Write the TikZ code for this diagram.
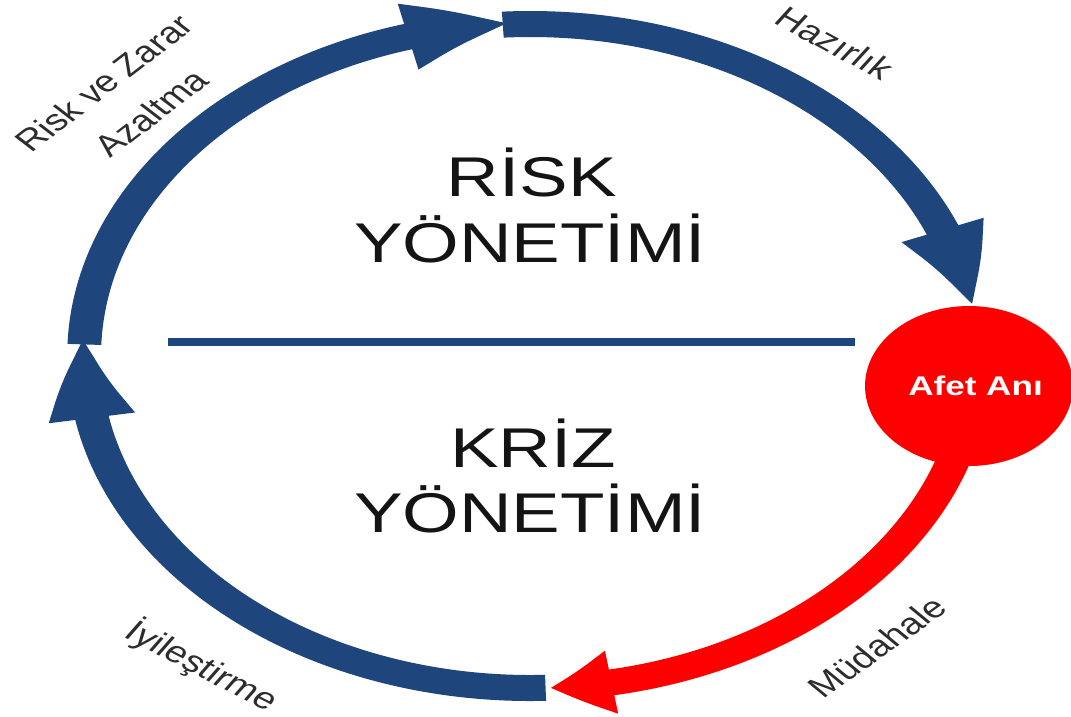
\documentclass[tikz,border=0pt]{standalone}
\usepackage{fontspec}
\setmainfont{Liberation Sans}
\usetikzlibrary{arrows.meta,bending,calc}
\definecolor{bandblue}{RGB}{31,69,125}
\definecolor{ink}{RGB}{20,20,20}
\definecolor{lblink}{RGB}{45,45,45}
\begin{document}
\begin{tikzpicture}[x=1pt,y=-1pt,
  band/.style={line width=26pt, draw=bandblue},
  redband/.style={line width=26pt, draw=red},
  bluetip/.style={-{Triangle[length=83pt,width=60pt,bend]}},
  redtip/.style={-{Triangle[length=48pt,width=60pt,bend]}},
  bigtxt/.style={font=\fontsize{56}{60}\selectfont, text=ink, anchor=base, inner sep=0pt},
  lbl/.style={font=\fontsize{30}{34}\selectfont, text=lblink, inner sep=0pt},
  afetstyle/.style={circle, fill=red, minimum size=160pt, inner sep=0pt, text=white,
    font=\bfseries\fontsize{27}{30}\selectfont}
]
\useasboundingbox[fill=white] (0,0) rectangle (1071,716);
\begin{scope}[transform canvas={xscale=1.3}]
\coordinate (O) at (407.7,356);
% blue cycle
\draw[band, bluetip] ($(O)+(88:343 and 332)$) arc[start angle=88, end angle=183.5, x radius=343, y radius=332];
\draw[band, bluetip] ($(O)+(182:343 and 332)$) arc[start angle=182, end angle=267.7, x radius=343, y radius=332];
\draw[band, bluetip] ($(O)+(266.5:343 and 332)$) arc[start angle=266.5, end angle=351.7, x radius=343, y radius=332];
% red arc
\draw[redband, redtip] ($(O)+(15:343 and 332)$) arc[start angle=15, end angle=87.4, x radius=343, y radius=332];
\node[afetstyle] (afet) at (745.4,386) {\hspace*{10pt}Afet Anı};
% divider
\coordinate (divL) at (129,342);
\coordinate (divR) at (658,342);
\draw[line width=8pt, bandblue] (divL) -- (divR);
% main texts
\node[bigtxt] (risk) at (409,196) {RİSK};
\node[bigtxt] (ryon) at (407.7,262) {YÖNETİMİ};
\node[bigtxt] (kriz) at (410,467) {KRİZ};
\node[bigtxt] (kyon) at (407.7,532) {YÖNETİMİ};
% phase labels
\node[lbl, rotate=45] (rvz) at (80,83) {Risk ve Zarar};
\node[lbl, rotate=45] (azal) at (116,113) {Azaltma};
\node[lbl, rotate=-35] (haz) at (642.3,43) {Hazırlık};
\node[lbl, rotate=43] (mud) at (674.6,647) {Müdahale};
\node[lbl, rotate=-34] (iyi) at (155.4,666) {İyileştirme};
\end{scope}
\end{tikzpicture}
\end{document}
